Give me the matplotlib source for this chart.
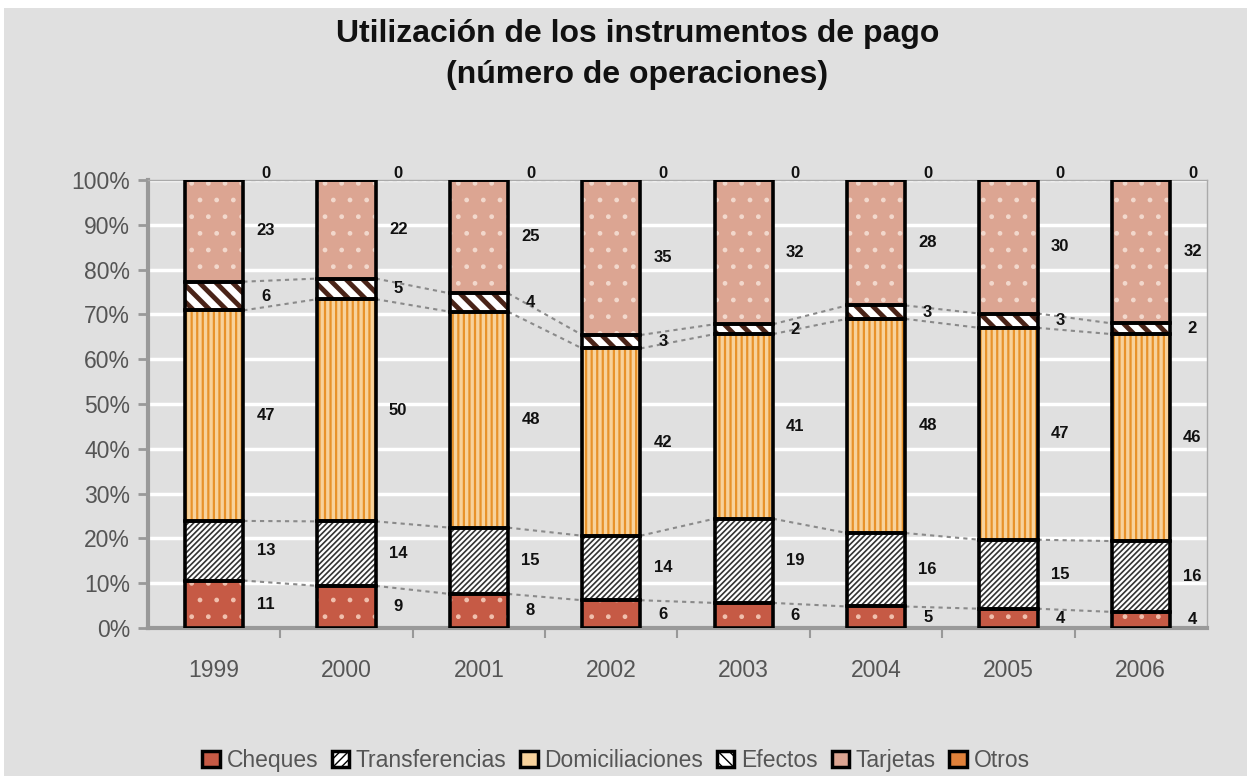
import numpy as np
import matplotlib
matplotlib.use("Agg")
import matplotlib.pyplot as plt
from matplotlib.patches import Rectangle

years = ["1999", "2000", "2001", "2002", "2003", "2004", "2005", "2006"]
series = ["Cheques", "Transferencias", "Domiciliaciones", "Efectos", "Tarjetas", "Otros"]
cheques = [10.6, 9.4, 7.6, 6.2, 5.6, 4.8, 4.3, 3.6]
transferencias = [13.3, 14.4, 14.8, 14.4, 18.8, 16.4, 15.4, 15.8]
domiciliaciones = [47.0, 49.6, 48.2, 41.8, 41.2, 47.8, 47.3, 46.2]
efectos = [6.4, 4.6, 4.1, 3.0, 2.2, 3.0, 3.2, 2.4]
tarjetas = [22.7, 22.0, 25.3, 34.6, 32.2, 28.0, 29.8, 32.0]
otros = [0, 0, 0, 0, 0, 0, 0, 0]

# (face, hatch colour, hatch, hatch width)
styles = [
    ("#c65a45", "#f0c0ae", ".", 1.0),
    ("white", "#333333", "//////", 1.2),
    ("#f7d29c", "#e8922a", "|||", 1.6),
    ("white", "#4a2418", "\\\\", 3.5),
    ("#dca592", "#f2d8cc", ".", 1.0),
    ("#e0813a", None, None, 1.0),
]

plt.rcParams['font.family'] = ['Liberation Sans', 'DejaVu Sans']

bg = "#e0e0e0"
fig = plt.figure(figsize=(12.47, 7.76), dpi=100, facecolor="white")
fig.patches.append(Rectangle((4 / 1247, 0), 1, 1 - 8 / 776, transform=fig.transFigure,
                             facecolor=bg, edgecolor="none", zorder=-10))
ax = fig.add_axes([148 / 1247, 1 - 628 / 776, (1207 - 148) / 1247, (628 - 180) / 776])
ax.set_facecolor(bg)

data = np.array([cheques, transferencias, domiciliaciones, efectos, tarjetas, otros], dtype=float)
x = np.arange(len(years))
w = 0.44
bottom = np.zeros(len(years))
for k, vals in enumerate(data):
    face, hc, hatch, hw = styles[k]
    ax.bar(x, vals, w, bottom=bottom, color=face, edgecolor="none", zorder=3)
    if hatch:
        with plt.rc_context({'hatch.linewidth': hw}):
            bars = ax.bar(x, vals, w, bottom=bottom, color="none", edgecolor=hc, hatch=hatch,
                          linewidth=0, zorder=3.5)
        for b in bars:
            if hasattr(b, "set_hatch_linewidth"):
                b.set_hatch_linewidth(hw)
    ax.bar(x, vals, w, bottom=bottom, color="none", edgecolor="black", linewidth=2.6, zorder=4)
    top = bottom + vals
    # series lines
    for i in range(len(years) - 1):
        ax.plot([x[i] + w / 2, x[i + 1] - w / 2], [top[i], top[i + 1]], ls=(0, (2, 2)),
                color="#8a8a8a", lw=1.5, zorder=2.5)
    for i in range(len(years)):
        ax.text(x[i] + 0.39, bottom[i] + vals[i] / 2 + (1.5 if vals[i] == 0 else 0),
                "%.0f" % vals[i], ha="center", va="center", fontsize=12,
                fontweight="bold", color="#111111", zorder=5)
    bottom = top

ax.set_xlim(-0.5, len(years) - 0.5)
ax.set_ylim(0, 100)
ax.set_yticks(np.arange(0, 101, 10))
ax.set_yticklabels(["%d%%" % v for v in range(0, 101, 10)])
ax.set_xticks(x)
ax.set_xticklabels(years)
ax.set_xticks(np.arange(0.5, len(years) - 0.5, 1), minor=True)
ax.tick_params(axis="x", which="major", length=0, pad=22, labelsize=16.5, labelcolor="#555555")
ax.tick_params(axis="x", which="minor", length=7, width=1.5, color="#999999", direction="out")
ax.tick_params(axis="y", length=7, width=2, color="#999999", labelsize=16.5, labelcolor="#555555", pad=6)
ax.yaxis.grid(True, color="white", lw=2.5, zorder=0)
ax.set_axisbelow(True)
for s in ["left", "bottom"]:
    ax.spines[s].set_color("#999999")
    ax.spines[s].set_linewidth(3)
for s in ["top", "right"]:
    ax.spines[s].set_color("#aaaaaa")
    ax.spines[s].set_linewidth(1)

fig.text(0.511, 0.975, "Utilización de los instrumentos de pago\n(número de operaciones)",
         ha="center", va="top", fontsize=23, fontweight="bold", color="#111111", linespacing=1.45)

handles = []
for k in range(len(series)):
    face, hc, hatch, hw = styles[k]
    hh = {1: "////", 3: "\\\\\\"}.get(k)
    handles.append(Rectangle((0, 0), 1, 1, facecolor=face, edgecolor="black", lw=2.5, hatch=hh))
leg = fig.legend(handles, series, loc="center", bbox_to_anchor=(0.494, 0.02), ncol=6,
                 frameon=False, fontsize=16.5, handlelength=0.75, handleheight=0.75,
                 handletextpad=0.3, columnspacing=0.6)
for t in leg.get_texts():
    t.set_color("#555555")

fig.savefig("out.png", dpi=100, facecolor=fig.get_facecolor())
